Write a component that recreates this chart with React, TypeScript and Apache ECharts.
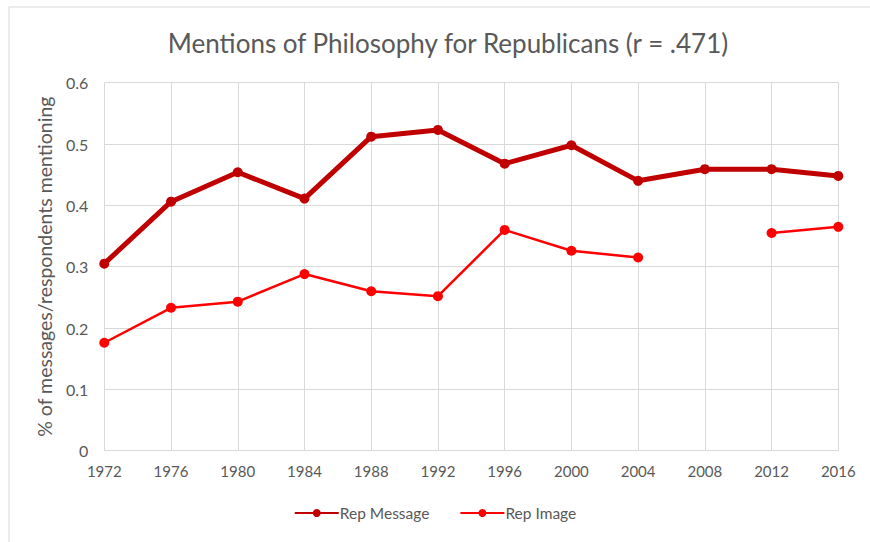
import React, { useEffect, useRef } from "react";
import * as echarts from "echarts";

// Election years on the category axis
const years = ["1972", "1976", "1980", "1984", "1988", "1992", "1996", "2000", "2004", "2008", "2012", "2016"];

// Share of Republican campaign messages mentioning philosophy
const repMessage = [0.305, 0.406, 0.454, 0.411, 0.512, 0.523, 0.468, 0.498, 0.44, 0.459, 0.459, 0.448];

// Share of respondents mentioning philosophy in the Republican image (no 2008 survey)
const repImage: (number | null)[] = [0.176, 0.233, 0.243, 0.288, 0.26, 0.252, 0.36, 0.326, 0.315, null, 0.355, 0.365];

const titleText = "Mentions of Philosophy for Republicans (r = .471)";
const yAxisTitle = "% of messages/respondents mentioning";

const FONT = "Lato, 'Open Sans', sans-serif";
const TEXT_GRAY = "#595959";
const GRID_GRAY = "#d9d9d9";

export default function App() {
  const ref = useRef<HTMLDivElement>(null);

  useEffect(() => {
    if (!ref.current) return;
    const chart = echarts.init(ref.current, undefined, { renderer: "svg" });
    chart.setOption({
      animation: false,
      backgroundColor: "#ffffff",
      textStyle: { fontFamily: FONT },
      graphic: [
        {
          type: "rect",
          shape: { x: 9, y: 7, width: 900, height: 600 },
          style: { fill: "none", stroke: GRID_GRAY, lineWidth: 1 },
          silent: true,
        },
      ],
      title: {
        text: titleText,
        left: 443,
        textAlign: "center",
        top: 25,
        textStyle: { fontFamily: FONT, fontSize: 26, fontWeight: "normal", color: TEXT_GRAY },
      },
      legend: {
        bottom: 16,
        left: "center",
        itemWidth: 44,
        itemHeight: 10,
        itemGap: 30,
        textStyle: { fontFamily: FONT, fontSize: 15.5, color: TEXT_GRAY, padding: [0, 0, 0, -4] },
        data: ["Rep Message", "Rep Image"],
      },
      grid: { left: 104.3, right: 31.7, top: 82.7, bottom: 91.3, containLabel: false },
      xAxis: {
        type: "category",
        data: years,
        boundaryGap: false,
        axisLine: { show: true, lineStyle: { color: GRID_GRAY, width: 1 } },
        axisTick: { show: false },
        axisLabel: { color: TEXT_GRAY, fontSize: 15, fontFamily: FONT, margin: 13 },
        splitLine: { show: true, lineStyle: { color: GRID_GRAY, width: 1 } },
      },
      yAxis: {
        type: "value",
        min: 0,
        max: 0.6,
        interval: 0.1,
        name: yAxisTitle,
        nameLocation: "middle",
        nameGap: 50,
        nameRotate: 90,
        nameTextStyle: { color: TEXT_GRAY, fontSize: 19.5, fontFamily: FONT },
        axisLine: { show: false },
        axisTick: { show: false },
        axisLabel: {
          color: TEXT_GRAY,
          fontSize: 16,
          fontFamily: FONT,
          margin: 16,
          formatter: (v: number) => (v === 0 ? "0" : String(Math.round(v * 10) / 10)),
        },
        splitLine: { show: true, lineStyle: { color: GRID_GRAY, width: 1 } },
      },
      series: [
        {
          name: "Rep Message",
          type: "line",
          data: repMessage,
          symbol: "circle",
          symbolSize: 10,
          lineStyle: { color: "#c00000", width: 5 },
          itemStyle: { color: "#c00000" },
          z: 3,
        },
        {
          name: "Rep Image",
          type: "line",
          data: repImage,
          connectNulls: false,
          symbol: "circle",
          symbolSize: 10,
          lineStyle: { color: "#ff0000", width: 2.5 },
          itemStyle: { color: "#ff0000" },
          z: 2,
        },
      ],
    });
    return () => chart.dispose();
  }, []);

  return (
    <div
      ref={ref}
      style={{ position: "fixed", left: 0, top: 0, width: 870, height: 542, background: "#fff" }}
    />
  );
}
